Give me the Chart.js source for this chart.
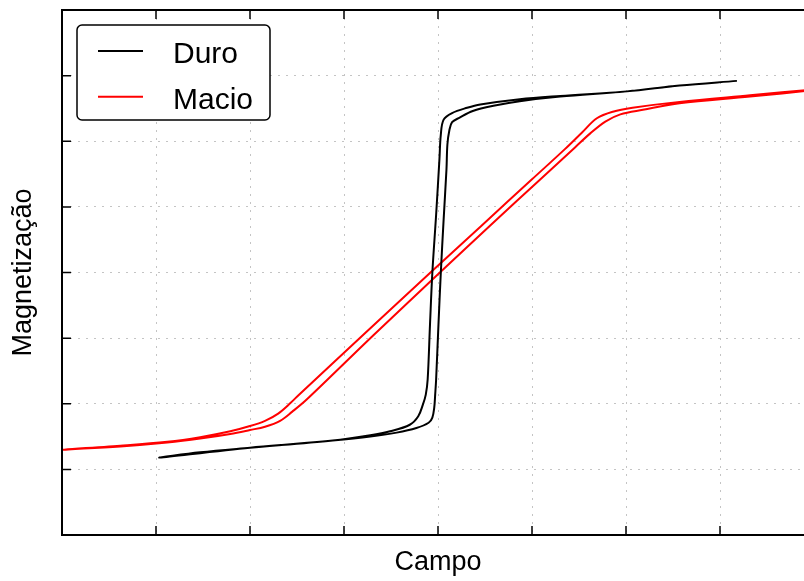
<!DOCTYPE html>
<html>
<head>
<meta charset="utf-8">
<script src="https://cdn.jsdelivr.net/npm/chart.js@4"></script>
<style>
  html, body { margin: 0; padding: 0; background: #fff; overflow: hidden; }
  #wrap { position: relative; width: 830px; height: 581px; }
</style>
</head>
<body>
<div id="wrap"><canvas id="chart"></canvas></div>
<script>
// Duro (hard material) - descending branch, then ascending branch
const duroDescX = [3.18, 2.57, 2.01, 1.30, 0.87, 0.45, 0.31, 0.15, 0.06, 0.03, 0.015, -0.02, -0.06, -0.085, -0.11, -0.13, -0.16, -0.21, -0.30, -0.51, -0.72, -1.12, -2.00, -2.53, -2.96];
const duroDescY = [2.92, 2.85, 2.76, 2.69, 2.64, 2.56, 2.51, 2.43, 2.33, 2.10, 1.72, 0.88, 0.00, -0.79, -1.63, -1.86, -2.01, -2.19, -2.32, -2.42, -2.48, -2.56, -2.67, -2.74, -2.82];
const duroAscX = [-2.96, -2.00, -1.12, -0.72, -0.44, -0.23, -0.10, -0.06, -0.04, -0.03, -0.02, 0.005, 0.03, 0.06, 0.09, 0.10, 0.12, 0.15, 0.23, 0.37, 0.59, 0.87, 1.30, 2.01, 2.57, 3.18];
const duroAscY = [-2.82, -2.67, -2.56, -2.50, -2.44, -2.37, -2.29, -2.21, -2.06, -1.86, -1.63, -0.79, 0.00, 0.81, 1.57, 1.95, 2.16, 2.29, 2.36, 2.46, 2.54, 2.61, 2.68, 2.76, 2.85, 2.92];

// Macio (soft material)
const macioDescX = [4.00, 3.32, 2.57, 2.07, 1.86, 1.69, 1.53, 1.35, 1.00, 0.46, -0.08, -0.78, -1.47, -1.57, -1.70, -1.84, -2.00, -2.21, -2.53, -2.88, -3.38, -4.00];
const macioDescY = [2.79, 2.70, 2.60, 2.51, 2.45, 2.35, 2.13, 1.88, 1.42, 0.71, 0.00, -0.93, -1.85, -1.99, -2.15, -2.26, -2.34, -2.42, -2.51, -2.58, -2.64, -2.70];
const macioAscX = [-4.00, -3.38, -2.88, -2.53, -2.21, -2.00, -1.84, -1.68, -1.55, -1.40, -0.69, 0.02, 0.55, 1.09, 1.46, 1.62, 1.78, 1.94, 2.18, 2.57, 3.32, 4.00];
const macioAscY = [-2.71, -2.65, -2.59, -2.53, -2.46, -2.40, -2.35, -2.26, -2.12, -1.94, -0.96, 0.00, 0.71, 1.42, 1.91, 2.12, 2.30, 2.41, 2.48, 2.58, 2.68, 2.78];

const seriesNames = ['Duro', 'Macio'];
const seriesColors = ['#000000', '#ff0000'];
const xTitle = 'Campo';
const yTitle = 'Magnetização';

function toPoints(xs, ys) {
  return xs.map((x, i) => ({ x: x, y: ys[i] }));
}

// frame box with inward ticks, like the original plot
const framePlugin = {
  id: 'frame',
  afterDraw(chart) {
    const { ctx, chartArea: a, scales } = chart;
    ctx.save();
    ctx.strokeStyle = '#000';
    ctx.lineWidth = 1.5;
    const len = 9;
    scales.x.ticks.forEach(t => {
      if (t.value <= scales.x.min || t.value >= scales.x.max) return;
      const px = scales.x.getPixelForValue(t.value);
      ctx.beginPath();
      ctx.moveTo(px, a.bottom); ctx.lineTo(px, a.bottom - len);
      ctx.moveTo(px, a.top); ctx.lineTo(px, a.top + len);
      ctx.stroke();
    });
    scales.y.ticks.forEach(t => {
      if (t.value <= scales.y.min || t.value >= scales.y.max) return;
      const py = scales.y.getPixelForValue(t.value);
      ctx.beginPath();
      ctx.moveTo(a.left, py); ctx.lineTo(a.left + len, py);
      ctx.moveTo(a.right, py); ctx.lineTo(a.right - len, py);
      ctx.stroke();
    });
    ctx.lineWidth = 2;
    ctx.strokeRect(a.left, a.top, a.right - a.left, a.bottom - a.top);
    ctx.restore();
  }
};

// legend box drawn inside the plot area
const boxLegendPlugin = {
  id: 'boxLegend',
  afterDraw(chart) {
    const { ctx, chartArea: a } = chart;
    const x0 = a.left + 15, y0 = a.top + 15, w = 193, h = 95, r = 5;
    ctx.save();
    ctx.beginPath();
    ctx.roundRect(x0, y0, w, h, r);
    ctx.fillStyle = '#fff';
    ctx.fill();
    ctx.lineWidth = 1.5;
    ctx.strokeStyle = '#000';
    ctx.stroke();
    ctx.font = '30px "Liberation Sans", Arial, sans-serif';
    ctx.textBaseline = 'alphabetic';
    chart.data.datasets.forEach((ds, i) => {
      const ly = y0 + 26 + i * 45.7;
      ctx.strokeStyle = ds.borderColor;
      ctx.lineWidth = 2;
      ctx.beginPath();
      ctx.moveTo(x0 + 21, ly);
      ctx.lineTo(x0 + 66, ly);
      ctx.stroke();
      ctx.fillStyle = '#000';
      ctx.fillText(ds.label, x0 + 96, ly + 12.3);
    });
    ctx.restore();
  }
};

document.addEventListener('DOMContentLoaded', function() {
  const canvas = document.getElementById('chart');
  const lineStyle = { fill: false, pointRadius: 0, borderWidth: 2, tension: 0.35 };

  new Chart(canvas, {
    type: 'line',
    data: {
      datasets: [
        Object.assign({
          label: seriesNames[0],
          data: toPoints(duroDescX.concat(duroAscX.slice(1)), duroDescY.concat(duroAscY.slice(1))),
          borderColor: seriesColors[0]
        }, lineStyle),
        Object.assign({
          label: seriesNames[1],
          data: toPoints(macioDescX.concat(macioAscX.slice(1)), macioDescY.concat(macioAscY.slice(1))),
          borderColor: seriesColors[1]
        }, lineStyle)
      ]
    },
    options: {
      responsive: true,
      maintainAspectRatio: false,
      animation: false,
      layout: { padding: { top: 10, right: 16, left: 0, bottom: 0 } },
      plugins: {
        legend: { display: false },
        tooltip: { enabled: false }
      },
      scales: {
        x: {
          type: 'linear',
          min: -4,
          max: 4,
          ticks: { display: false, stepSize: 1 },
          grid: { color: '#c4c4c4', lineWidth: 1, drawTicks: false },
          border: { display: false, dash: [2, 6] },
          title: {
            display: true,
            text: xTitle,
            color: '#000',
            font: { family: 'Liberation Sans', size: 27 },
            padding: { top: 0, bottom: 2 }
          },
          afterFit: s => { s.height = 46; }
        },
        y: {
          type: 'linear',
          min: -4,
          max: 4,
          ticks: { display: false, stepSize: 1 },
          grid: { color: '#c4c4c4', lineWidth: 1, drawTicks: false },
          border: { display: false, dash: [2, 6] },
          title: {
            display: true,
            text: yTitle,
            color: '#000',
            font: { family: 'Liberation Sans', size: 27 },
            padding: { top: 7, bottom: 0 }
          },
          afterFit: s => { s.width = 62; }
        }
      }
    },
    plugins: [framePlugin, boxLegendPlugin]
  });
});
</script>
</body>
</html>
